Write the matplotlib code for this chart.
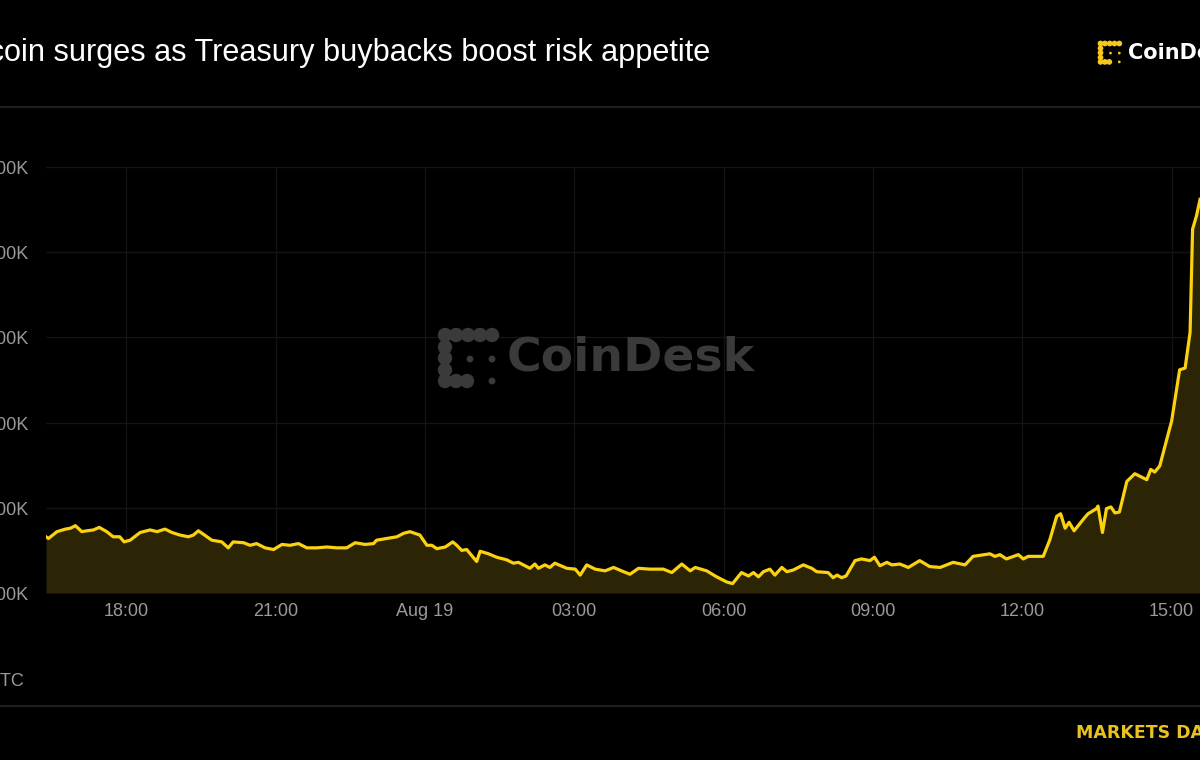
import matplotlib
matplotlib.use("Agg")
import matplotlib.pyplot as plt
from matplotlib.patches import Circle

# hours since Aug 18 00:00 UTC
hours = [16.39, 16.44, 16.61, 16.78, 16.88, 16.98, 17.11, 17.21, 17.34, 17.46,
         17.61, 17.74, 17.87, 17.96, 18.08, 18.28, 18.48, 18.62, 18.78, 18.92,
         19.08, 19.25, 19.35, 19.45, 19.55, 19.72, 19.92, 20.05, 20.15, 20.36,
         20.49, 20.62, 20.79, 20.96, 21.13, 21.29, 21.46, 21.63, 21.83, 22.03,
         22.23, 22.43, 22.60, 22.80, 22.97, 23.03, 23.23, 23.44, 23.57, 23.70,
         23.90, 24.04, 24.14, 24.24, 24.41, 24.56, 24.64, 24.74, 24.84, 25.04,
         25.11, 25.28, 25.44, 25.64, 25.78, 25.88, 26.11, 26.21, 26.28, 26.41,
         26.51, 26.61, 26.85, 27.02, 27.12, 27.25, 27.42, 27.62, 27.79, 27.95,
         28.12, 28.29, 28.52, 28.79, 28.96, 29.16, 29.33, 29.43, 29.66, 29.86,
         30.06, 30.18, 30.36, 30.50, 30.60, 30.70, 30.80, 30.93, 31.03, 31.17,
         31.27, 31.40, 31.60, 31.77, 31.87, 32.10, 32.20, 32.28, 32.37, 32.46,
         32.64, 32.77, 32.94, 33.03, 33.14, 33.28, 33.38, 33.54, 33.71, 33.94,
         34.14, 34.35, 34.61, 34.85, 35.01, 35.35, 35.45, 35.55, 35.68, 35.92,
         36.02, 36.12, 36.42, 36.55, 36.69, 36.77, 36.86, 36.94, 37.04, 37.26,
         37.32, 37.49, 37.52, 37.61, 37.69, 37.78, 37.86, 37.95, 38.10, 38.26,
         38.50, 38.58, 38.66, 38.76, 39.00, 39.16, 39.27, 39.37, 39.42, 39.50,
         39.57]

# price in thousands of USD
price_k = [58.66, 58.64, 58.72, 58.75, 58.76, 58.79, 58.72, 58.73, 58.74, 58.77,
           58.72, 58.66, 58.66, 58.60, 58.62, 58.71, 58.74, 58.72, 58.75, 58.71,
           58.68, 58.66, 58.68, 58.73, 58.69, 58.62, 58.60, 58.53, 58.60, 58.59,
           58.56, 58.58, 58.53, 58.51, 58.57, 58.56, 58.58, 58.53, 58.53, 58.54,
           58.53, 58.53, 58.59, 58.57, 58.58, 58.62, 58.64, 58.66, 58.70, 58.72,
           58.68, 58.56, 58.56, 58.52, 58.54, 58.60, 58.56, 58.50, 58.51, 58.37,
           58.49, 58.46, 58.42, 58.39, 58.35, 58.36, 58.29, 58.34, 58.29, 58.33,
           58.30, 58.35, 58.29, 58.28, 58.21, 58.33, 58.28, 58.26, 58.30, 58.26,
           58.22, 58.29, 58.28, 58.28, 58.24, 58.34, 58.26, 58.30, 58.26, 58.19,
           58.13, 58.11, 58.24, 58.20, 58.24, 58.19, 58.25, 58.28, 58.21, 58.30,
           58.25, 58.27, 58.33, 58.29, 58.25, 58.24, 58.18, 58.21, 58.18, 58.20,
           58.38, 58.40, 58.38, 58.42, 58.32, 58.36, 58.33, 58.34, 58.30, 58.38,
           58.31, 58.30, 58.36, 58.33, 58.43, 58.46, 58.43, 58.45, 58.40, 58.45,
           58.40, 58.43, 58.43, 58.62, 58.90, 58.93, 58.76, 58.83, 58.73, 58.89,
           58.93, 58.99, 59.02, 58.71, 58.99, 59.01, 58.94, 58.95, 59.31, 59.40,
           59.33, 59.45, 59.42, 59.49, 60.02, 60.62, 60.64, 61.06, 62.27, 62.43,
           62.62]

x_ticks = [18, 21, 24, 27, 30, 33, 36, 39]
x_labels = ["18:00", "21:00", "Aug 19", "03:00", "06:00", "09:00", "12:00", "15:00"]
y_ticks = [58, 59, 60, 61, 62, 63]
y_labels = ["$58.00K", "$59.00K", "$60.00K", "$61.00K", "$62.00K", "$63.00K"]

title = "Bitcoin surges as Treasury buybacks boost risk appetite"

assert len(hours) == len(price_k)

BG = "#000000"
LINE = "#fcd20f"
FILL = "#2b2405"
GRID = "#141414"
TICK = "#9a9a9a"
W, H = 1200, 760


def draw_logo(ax, x0, y0, s, color):
    # CoinDesk mark built from overlapping dots, x0/y0 = top left in pixels
    big = [(0, 0), (11, 0), (23, 0), (35, 0), (47, 0),
           (0, 12), (0, 23), (0, 35), (0, 46), (11, 46), (22, 46)]
    small = [(25, 24), (47, 24), (47, 46)]
    for dx, dy in big:
        ax.add_patch(Circle((x0 + dx * s, y0 + dy * s), 7.2 * s, color=color, lw=0))
    for dx, dy in small:
        ax.add_patch(Circle((x0 + dx * s, y0 + dy * s), 3.4 * s, color=color, lw=0))


fig = plt.figure(figsize=(W / 100, H / 100), dpi=100, facecolor=BG)

# chart area in pixels: left 46, right 1210 (past the edge), top 167, bottom 593
left, right, top, bottom = 46, 1210, 167, 593
ax = fig.add_axes([left / W, 1 - bottom / H, (right - left) / W, (bottom - top) / H])
ax.set_facecolor(BG)
ax.fill_between(hours, price_k, y_ticks[0], color=FILL, lw=0, zorder=2)
ax.plot(hours, price_k, color=LINE, lw=2.3, solid_joinstyle="round", zorder=3)
ax.set_xlim(16.39, 39.77)
ax.set_ylim(y_ticks[0], y_ticks[-1])
ax.set_xticks(x_ticks)
ax.set_xticklabels(x_labels)
ax.set_yticks(y_ticks)
ax.set_yticklabels(y_labels)
ax.grid(True, color=GRID, lw=1, zorder=1)
ax.tick_params(length=0, colors=TICK, labelsize=13)
ax.tick_params(axis="x", pad=7)
ax.tick_params(axis="y", pad=12)
for lab in ax.get_xticklabels() + ax.get_yticklabels():
    lab.set_fontfamily("Liberation Sans")
for sp in ax.spines.values():
    sp.set_visible(False)

# overlay in pixel coordinates for header, footer and logos
ov = fig.add_axes([0, 0, 1, 1], facecolor="none")
ov.set_xlim(0, W)
ov.set_ylim(H, 0)
ov.axis("off")
ov.set_zorder(5)

ov.text(710, 53, title, color="white", fontsize=22.1, fontfamily="Liberation Sans",
        ha="right", va="center")
ov.plot([0, W], [107, 107], color="#1f1f1f", lw=1.6)
ov.plot([0, W], [706, 706], color="#1f1f1f", lw=1.6)

draw_logo(ov, 1100.5, 43.5, 0.4, "#f7c81b")
ov.text(1128, 53, "CoinDesk", color="white", fontsize=15, fontweight="bold",
        fontfamily="DejaVu Sans", ha="left", va="center")

# watermark
draw_logo(ov, 445, 335, 1.0, "#3a3a3a")
ov.text(507, 358, "CoinDesk", color="#3a3a3a", fontsize=34, fontweight="bold",
        fontfamily="DejaVu Sans", ha="left", va="center")

ov.text(24, 681, "UTC", color=TICK, fontsize=13, fontfamily="Liberation Sans",
        ha="right", va="center")
ov.text(1076, 733, "MARKETS DATA", color="#e8c21f", fontsize=12.5,
        fontweight="bold", fontfamily="DejaVu Sans", ha="left", va="center")

fig.savefig("out.png", dpi=100, facecolor=BG)
